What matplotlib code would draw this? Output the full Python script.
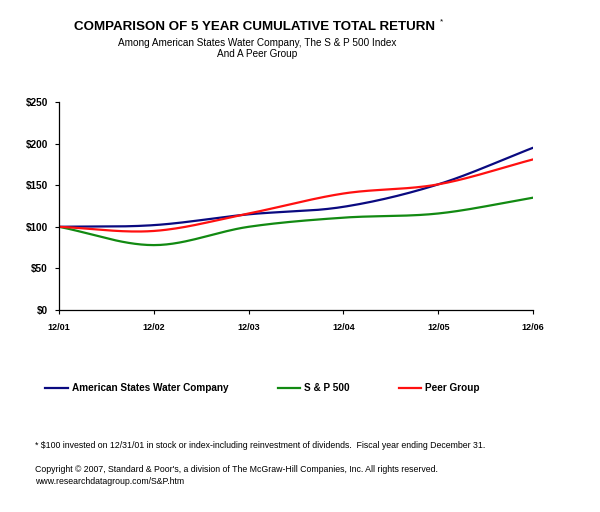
import numpy as np
import matplotlib
matplotlib.use("Agg")
import matplotlib.pyplot as plt
from matplotlib.lines import Line2D

plt.rcParams['font.family'] = ['Liberation Sans', 'DejaVu Sans']

years = ["12/01", "12/02", "12/03", "12/04", "12/05", "12/06"]
awr = [100, 102, 115, 124, 151, 195]
sp500 = [100, 78, 100, 111, 116, 135]
peer = [100, 95, 116, 140, 151, 181]
yticks = [0, 50, 100, 150, 200, 250]
ytick_labels = ["$0", "$50", "$100", "$150", "$200", "$250"]

series = [
    ("American States Water Company", awr, "#0a0a80"),
    ("S & P 500", sp500, "#128a12"),
    ("Peer Group", peer, "#ff1010"),
]


def smooth(y, n=30):
    # Catmull-Rom curve through the data points (Excel-style smoothed line)
    y = np.asarray(y, float)
    x = np.arange(len(y), dtype=float)
    px = np.concatenate([[2 * x[0] - x[1]], x, [2 * x[-1] - x[-2]]])
    py = np.concatenate([[2 * y[0] - y[1]], y, [2 * y[-1] - y[-2]]])
    xs, ys = [], []
    for i in range(1, len(px) - 2):
        t = np.linspace(0, 1, n, endpoint=False)
        for arr, out in ((px, xs), (py, ys)):
            p0, p1, p2, p3 = arr[i - 1], arr[i], arr[i + 1], arr[i + 2]
            out.append(0.5 * ((2 * p1) + (-p0 + p2) * t +
                              (2 * p0 - 5 * p1 + 4 * p2 - p3) * t ** 2 +
                              (-p0 + 3 * p1 - 3 * p2 + p3) * t ** 3))
    xs.append([x[-1]])
    ys.append([y[-1]])
    return np.concatenate(xs), np.concatenate(ys)


fig = plt.figure(figsize=(6.0, 5.12), dpi=100)
ax = fig.add_axes([59 / 600, 1 - 310 / 512, (533 - 59) / 600, (310 - 102) / 512])

for name, vals, col in series:
    sx, sy = smooth(vals)
    ax.plot(sx, sy, color=col, lw=1.6, solid_capstyle='round')

ax.set_xlim(0, len(years) - 1)
ax.set_ylim(0, 250)
ax.set_xticks(range(len(years)))
ax.set_xticklabels(years, fontsize=6.5, fontweight='bold')
ax.set_yticks(yticks)
ax.set_yticklabels(ytick_labels, fontsize=7.2, fontweight='bold')
ax.tick_params(axis='x', direction='out', length=3, width=0.8, pad=6)
ax.tick_params(axis='y', direction='out', length=3, width=0.8, pad=5)
for s in ('top', 'right'):
    ax.spines[s].set_visible(False)
for s in ('left', 'bottom'):
    ax.spines[s].set_linewidth(0.9)

# Titles
title = fig.text(254 / 600, 1 - 27 / 512, "COMPARISON OF 5 YEAR CUMULATIVE TOTAL RETURN",
                 ha='center', va='center', fontsize=9.6, fontweight='bold')
fig.canvas.draw()
bb = title.get_window_extent(fig.canvas.get_renderer())
fig.text((bb.x1 + 5) / 600, 1 - 22 / 512, "*", ha='left', va='center', fontsize=6)
fig.text(257 / 600, 1 - 43 / 512, "Among American States Water Company, The S & P 500 Index",
         ha='center', va='center', fontsize=7.2)
fig.text(257 / 600, 1 - 54 / 512, "And A Peer Group",
         ha='center', va='center', fontsize=7.2)

# Legend
leg_y = 1 - 388 / 512
leg_pos = [(45, 68, 72), (278, 300, 304), (399, 421, 425)]
for (name, vals, col), (x0, x1, xt) in zip(series, leg_pos):
    fig.add_artist(Line2D([x0 / 600, x1 / 600], [leg_y, leg_y], color=col, lw=1.6,
                          transform=fig.transFigure))
    fig.text(xt / 600, leg_y, name, ha='left', va='center', fontsize=7.2,
             fontweight='bold')

# Footnotes
fig.text(35 / 600, 1 - 446 / 512,
         "* $100 invested on 12/31/01 in stock or index-including reinvestment of dividends.  Fiscal year ending December 31.",
         ha='left', va='center', fontsize=6.35)
fig.text(35 / 600, 1 - 469 / 512,
         "Copyright \u00a9 2007, Standard & Poor's, a division of The McGraw-Hill Companies, Inc. All rights reserved.",
         ha='left', va='center', fontsize=6.35)
fig.text(35 / 600, 1 - 481 / 512, "www.researchdatagroup.com/S&P.htm",
         ha='left', va='center', fontsize=6.35)

fig.savefig("out.png", dpi=100)
